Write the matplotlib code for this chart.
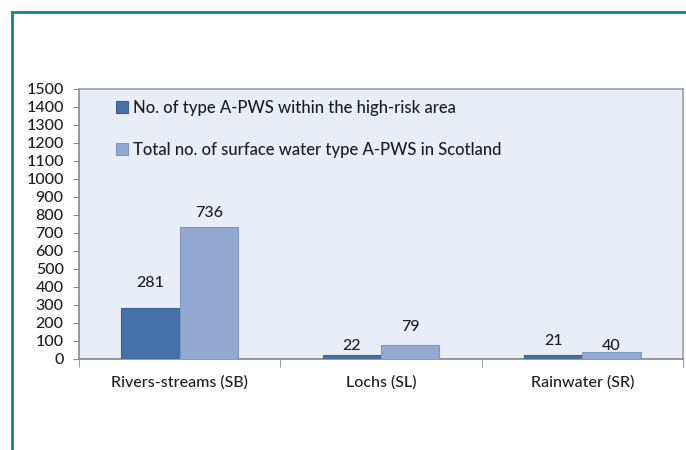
import numpy as np
import matplotlib.pyplot as plt
from matplotlib.lines import Line2D

# Data
categories = ["Rivers-streams (SB)", "Lochs (SL)", "Rainwater (SR)"]
series_names = [
    "No. of type A-PWS within the high-risk area",
    "Total no. of surface water type A-PWS in Scotland",
]
high_risk = [281, 22, 21]
total_scotland = [736, 79, 40]

# label nudges (pixels above bar top), as placed in the original
nudge_high = [25, 9, 14]
nudge_total = [14, 18, 6]

plt.rcParams["font.family"] = ["Lato", "DejaVu Sans"]
txt = "#1E1E1E"

fig = plt.figure(figsize=(6.86, 4.5), dpi=100)
ax = fig.add_axes([79 / 686, 1 - 359 / 450, 604 / 686, 270 / 450])
ax.set_facecolor("#E9EDF5")

x = np.arange(len(categories))
w = 0.29
dark, light = "#4571A8", "#93A9D1"
b1 = ax.bar(x - w / 2, high_risk, w, color=dark, edgecolor="#3A6296", linewidth=0.8,
            label=series_names[0], zorder=3)
b2 = ax.bar(x + w / 2, total_scotland, w, color=light, edgecolor="#7E97C3", linewidth=0.8,
            label=series_names[1], zorder=3)

for bars, vals, nud in [(b1, high_risk, nudge_high), (b2, total_scotland, nudge_total)]:
    for rect, v, n in zip(bars, vals, nud):
        ax.annotate(str(v), (rect.get_x() + rect.get_width() / 2, v),
                    xytext=(0, n * 0.72), textcoords="offset points",
                    ha="center", va="center", fontsize=11.5, color=txt,
                    fontweight="medium")

ax.set_xlim(-0.5, 2.5)
ax.set_ylim(0, 1500)
ax.set_yticks(np.arange(0, 1501, 100))
ax.tick_params(axis="y", labelsize=11.5, length=4, color="#888888",
               labelcolor=txt, pad=7)
ax.set_xticks(x)
ax.set_xticklabels(categories)
ax.tick_params(axis="x", which="major", length=0, labelsize=11.5,
               labelcolor=txt, pad=12)
ax.set_xticks([-0.5, 0.5, 1.5, 2.5], minor=True)
ax.tick_params(axis="x", which="minor", length=6, color="#888888")
for lab in ax.get_xticklabels() + ax.get_yticklabels():
    lab.set_fontweight("medium")

for s in ax.spines.values():
    s.set_color("#A0A0A0")
    s.set_linewidth(1.2)
ax.spines["left"].set_color("#888888")
ax.spines["bottom"].set_color("#888888")

leg = ax.legend(loc="upper left", bbox_to_anchor=(0.062, 0.96), frameon=False,
                fontsize=12, handlelength=0.7, handleheight=0.7, handletextpad=0.3,
                labelspacing=1.55, borderpad=0, borderaxespad=0,
                labelcolor=txt)
for t in leg.get_texts():
    t.set_fontweight("medium")

# teal frame round the figure
teal = "#17808E"
fig.add_artist(Line2D([12 / 686, 12 / 686], [0, 1 - 12 / 450], color=teal, lw=2))
fig.add_artist(Line2D([12 / 686, 1], [1 - 12 / 450, 1 - 12 / 450], color=teal, lw=2))

fig.savefig("out.png", dpi=100)
